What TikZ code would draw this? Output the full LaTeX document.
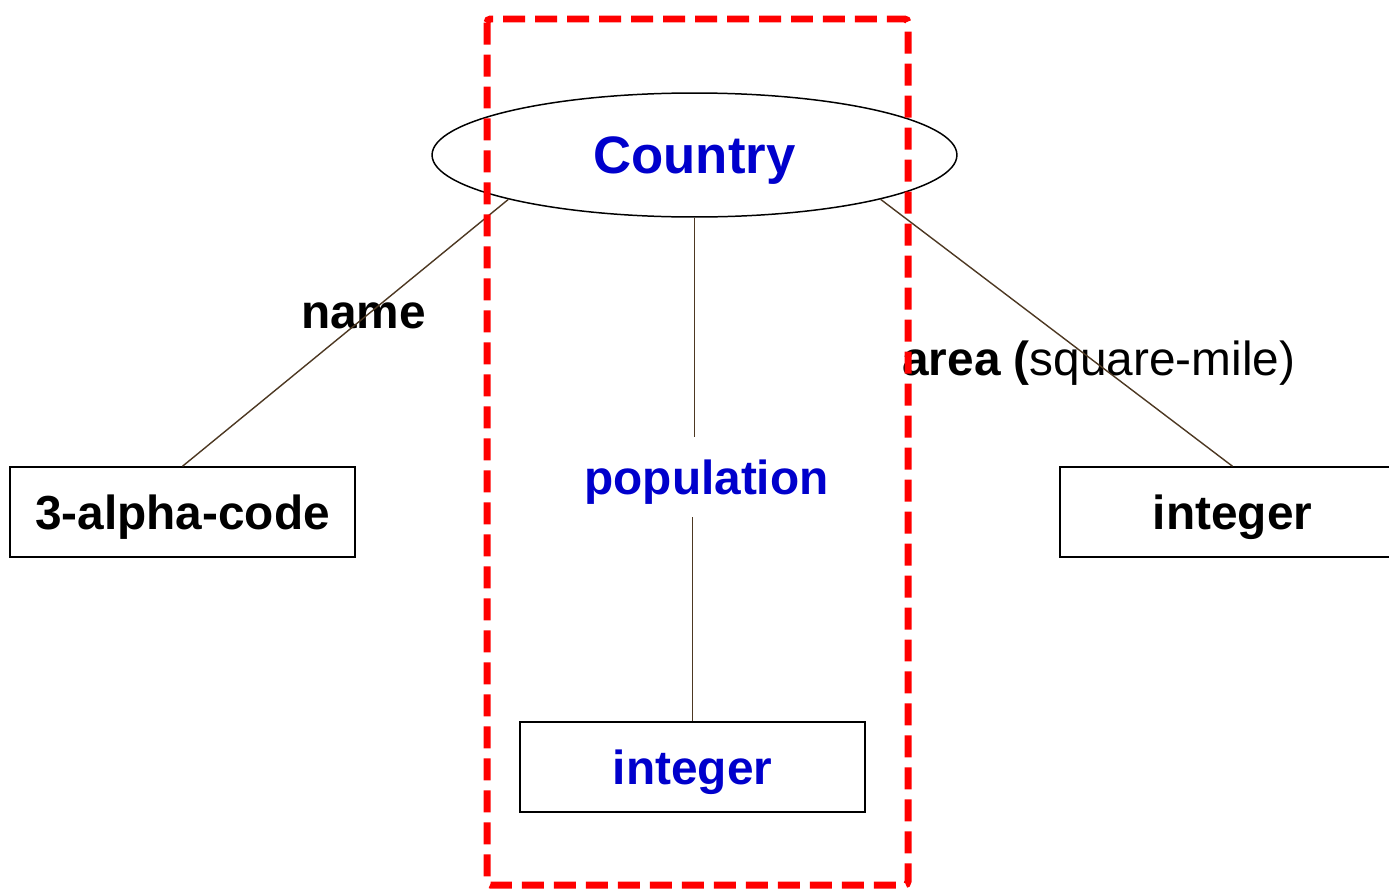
\documentclass[tikz,border=0pt]{standalone}
\usepackage{fontspec}
\setmainfont{Liberation Sans}
\usetikzlibrary{shapes.geometric}

\definecolor{entblue}{RGB}{0,0,204}
\definecolor{linkbrown}{RGB}{77,56,34}

\begin{document}
\begin{tikzpicture}[x=0.02cm, y=-0.02cm,
    lbl/.style={font=\fontsize{27.2}{32}\selectfont\bfseries, inner sep=0pt, text depth=0pt},
    typebox/.style={lbl, draw, line width=0.85pt, minimum width=\typew cm, minimum height=\typeh cm},
    link/.style={draw=linkbrown, line width=0.8pt}]

    % Define canvas (one unit == one pixel of the sketch, y runs downwards)
    \useasboundingbox (0,0) rectangle (1389,889);

    % Size of the type boxes (in cm)
    \pgfmathsetmacro{\typew}{6.9}
    \pgfmathsetmacro{\typeh}{1.8}

    % The entity itself
    \node[ellipse, draw, line width=0.85pt, inner sep=0pt, text depth=0pt,
          minimum width=10.5cm, minimum height=2.48cm,
          font=\fontsize{30}{36}\selectfont\bfseries, text=entblue]
          (country) at (694.5,155) {Country};

    % Type boxes of the attributes
    \node[typebox] (alpha) at (182.5,512) {3-alpha-code};
    \node[typebox] (intarea) at (1232.5,512) {integer};
    \node[typebox, text=entblue] (intpop) at (692.5,767) {integer};

    % Attribute names
    \node[lbl, anchor=base] (name) at (363.5,328) {name};
    \node[lbl, anchor=base west] (area) at (902,375) {area (\mdseries square-mile)};
    \node[lbl, text=entblue, minimum height=1.6cm] (pop) at (706.5,477) {population};

    % Links from the entity to its types
    \draw[link] (country.south west) -- (alpha.north);
    \draw[link] (country.south east) -- (intarea.north);
    \draw[link] (country.south) -- (country.south |- pop.north);
    \draw[link] (intpop.north) -- (intpop.north |- pop.south);

    % Highlight the population part
    \draw[red, line width=0.14cm, dash pattern=on 0.44cm off 0.2cm, rounded corners=2pt]
        (487,19) rectangle (908,885);

\end{tikzpicture}
\end{document}
